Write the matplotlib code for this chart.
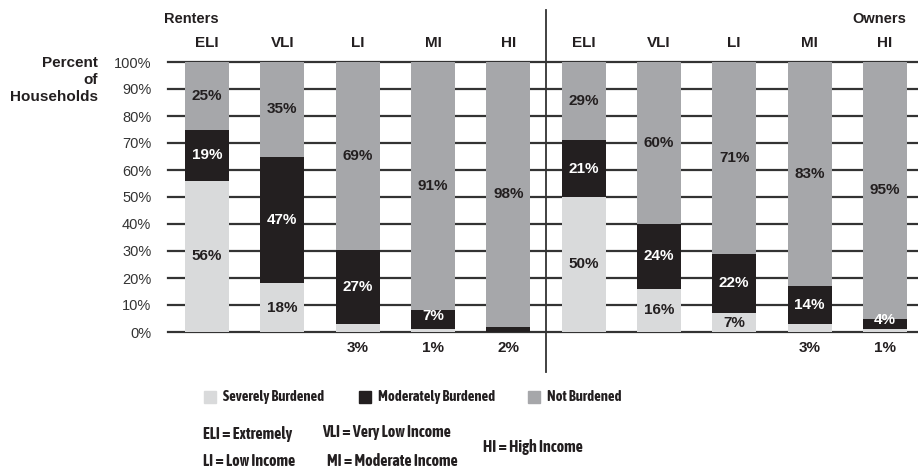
import matplotlib.pyplot as plt
from matplotlib.patches import Rectangle
from matplotlib import font_manager

# data
groups = ["Renters", "Owners"]
categories = ["ELI", "VLI", "LI", "MI", "HI"]
renters_severe = [56, 18, 3, 1, 0]
renters_moderate = [19, 47, 27, 7, 2]
renters_not = [25, 35, 69, 91, 98]
owners_severe = [50, 16, 7, 3, 1]
owners_moderate = [21, 24, 22, 14, 4]
owners_not = [29, 60, 71, 83, 95]
yticks = [0, 10, 20, 30, 40, 50, 60, 70, 80, 90, 100]


def is_bold(w):
    if isinstance(w, str):
        return w in ("bold", "heavy", "extra bold", "black", "semibold", "demibold")
    return w >= 600


# narrow bold font for the legend and the abbreviations
fonts = font_manager.fontManager.ttflist
narrow = None
for f in fonts:
    if ("Narrow" in f.name or "Condensed" in f.name) and is_bold(f.weight):
        narrow = f.name
        break
if narrow is None:
    narrow = "Liberation Sans"
nfs = 10.5 if narrow != "Liberation Sans" else 8.5

plt.rcParams['font.family'] = ["Liberation Sans", "DejaVu Sans"]
fs = 11

c_sev = "#d9dadb"
c_mod = "#231f20"
c_not = "#a6a7aa"
txt = "#231f20"

severe = renters_severe + owners_severe
moderate = renters_moderate + owners_moderate
notb = renters_not + owners_not
labels = categories + categories
xs = list(range(10))

W, H = 918, 471
fig = plt.figure(figsize=(W / 100, H / 100), dpi=100)
ax = fig.add_axes([168 / W, 1 - 332 / H, 750 / W, 270 / H])
ax.set_xlim(-0.518, 9.44)
ax.set_ylim(0, 100)

for t in yticks:
    ax.axhline(t, color="#333333", lw=1.6, zorder=1, clip_on=False)

bw = 0.585
for i in xs:
    tot = severe[i] + moderate[i] + notb[i]
    s = severe[i] * 100 / tot
    m = moderate[i] * 100 / tot
    n = notb[i] * 100 / tot
    ax.bar(i, s, bw, color=c_sev, zorder=2)
    ax.bar(i, m, bw, bottom=s, color=c_mod, zorder=2)
    ax.bar(i, n, bw, bottom=s + m, color=c_not, zorder=2)
    kw = dict(ha="center", va="center", fontsize=fs, fontweight="bold", zorder=3)
    ax.text(i, s + m + n / 2, f"{notb[i]}%", color=txt, **kw)
    if moderate[i] >= 4:
        ax.text(i, s + m / 2 + (1.5 if moderate[i] < 10 else 0), f"{moderate[i]}%",
                color="white", **kw)
    else:
        ax.text(i, -6, f"{moderate[i]}%", color=txt, **kw)
    if severe[i] >= 5:
        ax.text(i, s / 2, f"{severe[i]}%", color=txt, **kw)
    elif severe[i] > 0 and moderate[i] >= 4:
        ax.text(i, -6, f"{severe[i]}%", color=txt, **kw)
    ax.text(i, 107, labels[i], ha="center", va="center", fontsize=fs,
            fontweight="bold", color=txt)

ax.set_yticks(yticks)
ax.set_yticklabels([f"{t}%" for t in yticks], fontsize=10.5, color="#333333")
ax.tick_params(axis="y", length=0, pad=12)
ax.set_xticks([])
for sp in ax.spines.values():
    sp.set_visible(False)

# divider between renters and owners
ax.axvline(4.5, ymin=-0.148, ymax=1.193, color="#333333", lw=1.3, clip_on=False)

fig.text(164 / W, 1 - 19 / H, groups[0], ha="left", va="center", fontsize=10.5,
         fontweight="bold", color=txt)
fig.text(906 / W, 1 - 19 / H, groups[1], ha="right", va="center", fontsize=10.5,
         fontweight="bold", color=txt)
fig.text(98 / W, 1 - 80 / H, "Percent\nof\nHouseholds", ha="right", va="center",
         fontsize=fs, fontweight="bold", color=txt, linespacing=1.25)

# legend
leg = [("Severely Burdened", c_sev, 204), ("Moderately Burdened", c_mod, 359),
       ("Not Burdened", c_not, 528)]
for name, col, x0 in leg:
    fig.add_artist(Rectangle((x0 / W, 1 - 403 / H), 12 / W, 12 / H, color=col,
                             transform=fig.transFigure))
    fig.text((x0 + 19) / W, 1 - 397 / H, name, ha="left", va="center",
             fontsize=nfs, fontweight="bold", color=txt, family=narrow)

# abbreviations
abbr = [("ELI = Extremely", 203, 434), ("VLI = Very Low Income", 322, 432),
        ("LI = Low Income", 203, 461), ("MI = Moderate Income", 327, 461),
        ("HI = High Income", 483, 447)]
for s_, x0, y0 in abbr:
    fig.text(x0 / W, 1 - y0 / H, s_, ha="left", va="center", fontsize=nfs + 1,
             fontweight="bold", color=txt, family=narrow)

fig.savefig("out.png", dpi=100)
